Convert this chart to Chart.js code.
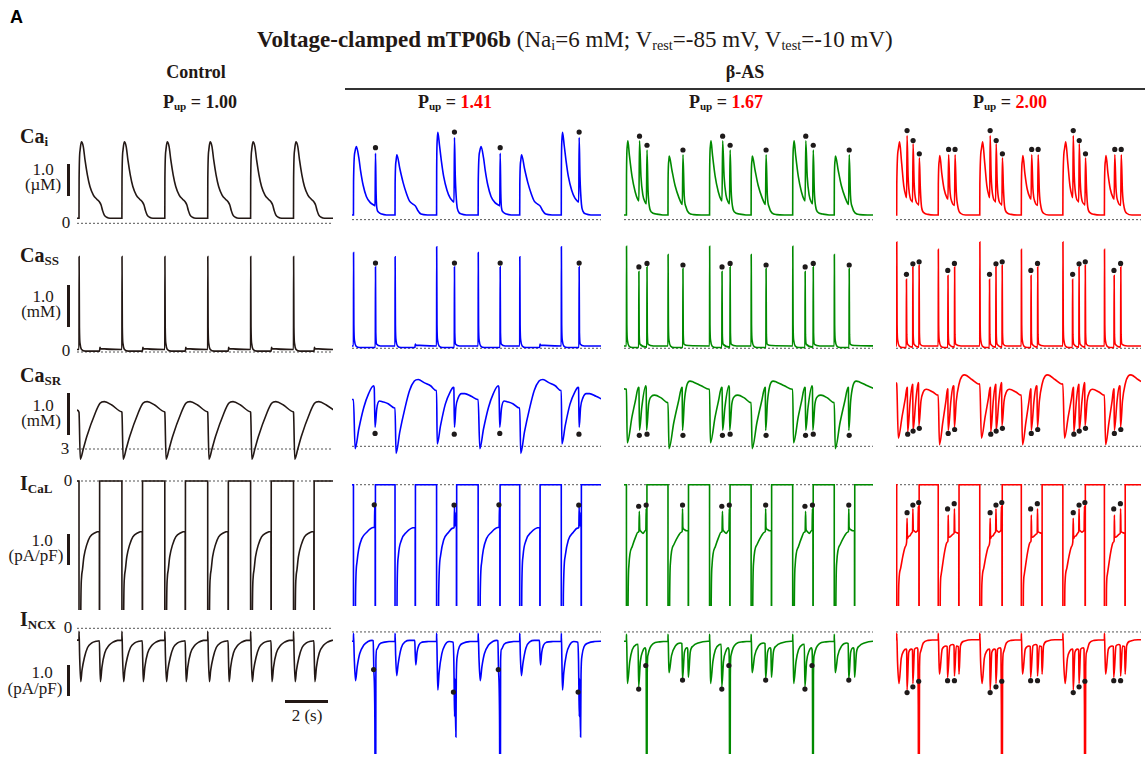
<!DOCTYPE html>
<html>
<head>
<meta charset="utf-8">
<script src="https://cdn.jsdelivr.net/npm/chart.js@4.4.1/dist/chart.umd.min.js"></script>
<style>
  html, body { margin: 0; padding: 0; background: #fff; }
  body { width: 1145px; height: 758px; overflow: hidden; position: relative;
         font-family: "Liberation Serif", "Times New Roman", serif; color: #231815; }
  .t { position: absolute; white-space: nowrap; line-height: 1; }
  .c { text-align: center; width: 200px; }
  .b { font-weight: bold; }
  .sub { font-size: 0.62em; position: relative; top: 0.22em; }
  .bar { position: absolute; background: #231815; }
  canvas.p { position: absolute; }
  .red { color: #ff0000; }
</style>
</head>
<body>

<div class="t b" style="left:10px;top:8px;font-family:'Liberation Sans',Arial,sans-serif;font-size:18px;color:#000">A</div>

<div class="t" style="left:257px;top:28px;font-size:23px;color:#231815">
  <b>Voltage-clamped mTP06b</b> (Na<span class="sub">i</span>=6 mM; V<span class="sub">rest</span>=-85 mV, V<span class="sub">test</span>=-10 mV)
</div>

<div class="t b c" style="left:96px;top:63px;font-size:18px">Control</div>
<div class="t b c" style="left:645px;top:63px;font-size:18px">β-AS</div>
<div class="bar" style="left:345px;top:88px;width:800px;height:2px;background:#333"></div>

<div class="t b c" style="left:100px;top:93px;font-size:18px">P<span class="sub">up</span> = 1.00</div>
<div class="t b c" style="left:355px;top:93px;font-size:18px">P<span class="sub">up</span> = <span class="red">1.41</span></div>
<div class="t b c" style="left:626px;top:93px;font-size:18px">P<span class="sub">up</span> = <span class="red">1.67</span></div>
<div class="t b c" style="left:910px;top:93px;font-size:18px">P<span class="sub">up</span> = <span class="red">2.00</span></div>

<!-- row names -->
<div class="t b" style="left:20px;top:126px;font-size:20px">Ca<span class="sub" style="font-size:13px">i</span></div>
<div class="t b" style="left:20px;top:245px;font-size:20px">Ca<span class="sub" style="font-size:13px">SS</span></div>
<div class="t b" style="left:20px;top:365px;font-size:20px">Ca<span class="sub" style="font-size:13px">SR</span></div>
<div class="t b" style="left:20px;top:473px;font-size:20px">I<span class="sub" style="font-size:13px">CaL</span></div>
<div class="t b" style="left:20px;top:609px;font-size:20px">I<span class="sub" style="font-size:13px">NCX</span></div>

<!-- scale bar captions -->
<div class="t c" style="left:-57px;top:161px;font-size:17px">1.0</div>
<div class="t c" style="left:-57px;top:176px;font-size:17px">(µM)</div>
<div class="t c" style="left:-57px;top:288px;font-size:17px">1.0</div>
<div class="t c" style="left:-59px;top:303px;font-size:17px">(mM)</div>
<div class="t c" style="left:-57px;top:397px;font-size:17px">1.0</div>
<div class="t c" style="left:-59px;top:412px;font-size:17px">(mM)</div>
<div class="t c" style="left:-58px;top:532px;font-size:17px">1.0</div>
<div class="t c" style="left:-64px;top:547px;font-size:17px">(pA/pF)</div>
<div class="t c" style="left:-58px;top:664px;font-size:17px">1.0</div>
<div class="t c" style="left:-65px;top:680px;font-size:17px">(pA/pF)</div>

<!-- baseline values -->
<div class="t c" style="left:-34px;top:214px;font-size:17px">0</div>
<div class="t c" style="left:-34px;top:342px;font-size:17px">0</div>
<div class="t c" style="left:-35px;top:440px;font-size:17px">3</div>
<div class="t c" style="left:-32px;top:472px;font-size:17px">0</div>
<div class="t c" style="left:-32px;top:619px;font-size:17px">0</div>

<!-- vertical scale bars -->
<div class="bar" style="left:67px;top:164px;width:3px;height:32px"></div>
<div class="bar" style="left:67px;top:285px;width:3px;height:42px"></div>
<div class="bar" style="left:67px;top:393px;width:3px;height:42px"></div>
<div class="bar" style="left:67px;top:534px;width:3px;height:31px"></div>
<div class="bar" style="left:67px;top:665px;width:3px;height:31px"></div>

<!-- time scale bar -->
<div class="bar" style="left:285px;top:700px;width:43px;height:3px"></div>
<div class="t c" style="left:207px;top:707px;font-size:17px">2 (s)</div>

<script>
// Pulse onsets (s): one 1-s clamp step to -10 mV every 2 s
const beatOnsets = [0, 2, 4, 6, 8, 10];

// beat pattern per column (which beat shape follows which)
const beatOrder100 = ['A', 'A', 'A', 'A', 'A', 'A'];
const beatOrder141 = ['A', 'B', 'C', 'A', 'B', 'C'];
const beatOrder167 = ['A', 'B', 'A', 'B', 'A', 'B'];
const beatOrder200 = ['A', 'B', 'A', 'B', 'A', 'B'];

// level at the left edge of each panel, per column
const startCai  = [0.16, 0.16, 0.16, 0.16];
const startCass = [0.06, 0.06, 0.06, 0.06];
const startCaSR = [3.92, 4.2, 4.47, 4.63];
const startICaL = [0, 0, 0, 0];
const startINCX = [-0.38, -0.32, -0.32, -0.27];

// ---------- Control, Pup = 1.00  ([time within beat (s), value]) ----------
const caiCtrl  = [[0,0.16],[0.005,1.4],[0.05,2.3],[0.11,2.57],[0.2,2.42],[0.28,2.0],[0.39,1.53],[0.51,1.16],[0.67,0.89],[0.83,0.76],[0.95,0.68],[1.03,0.58],[1.1,0.4],[1.18,0.26],[1.29,0.19],[1.45,0.16],[1.99,0.16]];
const cassCtrl = [[0,0.06],[0.005,2.29],[0.02,0.6],[0.05,0.2],[0.12,0.06],[0.3,0.02],[0.96,0.02],[0.975,0.11],[1.0,0.08],[1.99,0.06]];
const casrCtrl = [[0,3.87],[0.06,2.76],[0.2,3.0],[0.36,3.29],[0.75,3.84],[0.98,4.08],[1.18,4.12],[1.53,4.04],[1.98,3.88]];
const icalCtrl = [[0,0],[0.002,-9],[0.06,-9],[0.085,-4.1],[0.12,-3.1],[0.16,-2.87],[0.23,-2.44],[0.36,-2.06],[0.51,-1.8],[0.75,-1.67],[0.95,-1.63],[0.952,-9],[0.96,-9],[0.962,0],[1.99,0]];
const incxCtrl = [[0,-0.38],[0.003,-0.1],[0.03,-0.9],[0.08,-1.72],[0.14,-1.35],[0.25,-0.95],[0.4,-0.62],[0.6,-0.47],[0.8,-0.42],[0.95,-0.4],[0.97,-1.0],[1.0,-1.72],[1.07,-1.25],[1.2,-0.8],[1.4,-0.55],[1.6,-0.44],[1.8,-0.39],[1.99,-0.38]];

// ---------- β-AS, Pup = 1.41 ----------
const caiA141 = [[0,0.16],[0.005,1.3],[0.07,2.3],[0.14,2.49],[0.26,2.1],[0.34,1.68],[0.47,1.16],[0.62,0.79],[0.81,0.58],[1.0,0.49],[1.04,0.47],[1.06,2.26],[1.09,0.9],[1.12,0.42],[1.2,0.26],[1.36,0.19],[1.59,0.16],[1.99,0.16]];
const caiB141 = [[0,0.16],[0.005,1.2],[0.05,2.0],[0.09,2.21],[0.23,1.74],[0.39,1.26],[0.55,0.89],[0.7,0.63],[0.86,0.53],[0.97,0.47],[1.02,0.42],[1.09,0.32],[1.25,0.19],[1.56,0.16],[1.99,0.16]];
const caiC141 = [[0,0.16],[0.004,1.6],[0.03,2.7],[0.06,2.97],[0.14,2.53],[0.23,2.0],[0.34,1.47],[0.5,1.0],[0.65,0.74],[0.78,0.63],[0.84,0.6],[0.86,2.79],[0.9,1.47],[0.97,0.53],[1.04,0.29],[1.2,0.19],[1.43,0.16],[1.99,0.16]];
const cassA141 = [[0,0.06],[0.005,2.46],[0.02,0.6],[0.05,0.2],[0.12,0.06],[0.3,0.02],[1.05,0.02],[1.06,2.09],[1.075,0.4],[1.12,0.1],[1.3,0.06],[1.99,0.06]];
const cassB141 = [[0,0.06],[0.005,2.35],[0.02,0.6],[0.05,0.2],[0.12,0.06],[0.3,0.02],[0.96,0.02],[0.975,0.11],[1.0,0.08],[1.99,0.06]];
const cassC141 = [[0,0.06],[0.005,2.61],[0.02,0.6],[0.05,0.2],[0.12,0.06],[0.3,0.02],[0.85,0.02],[0.86,2.09],[0.875,0.4],[0.92,0.1],[1.1,0.06],[1.99,0.06]];
const casrA141 = [[0,4.2],[0.08,2.94],[0.26,3.45],[0.5,4.0],[0.73,4.35],[0.97,4.55],[1.0,4.5],[1.04,3.49],[1.12,3.96],[1.25,4.16],[1.4,4.14],[1.67,4.09],[1.98,3.98]];
const casrB141 = [[0,3.98],[0.05,2.82],[0.23,3.37],[0.47,3.96],[0.7,4.43],[0.93,4.67],[1.12,4.71],[1.4,4.63],[1.71,4.55],[1.98,4.43]];
const casrC141 = [[0,4.43],[0.03,3.06],[0.19,3.53],[0.42,4.08],[0.65,4.39],[0.81,4.51],[0.83,4.5],[0.86,3.49],[0.93,4.0],[1.04,4.24],[1.2,4.35],[1.36,4.35],[1.67,4.28],[1.98,4.2]];
const icalA141 = [[0,0],[0.002,-9],[0.06,-9],[0.1,-3.8],[0.17,-2.66],[0.25,-2.23],[0.4,-1.85],[0.64,-1.63],[0.95,-1.47],[1.01,-1.45],[1.025,-0.72],[1.035,-1.4],[1.045,-1.4],[1.047,-9],[1.055,-9],[1.057,0],[1.99,0]];
const icalB141 = [[0,0],[0.002,-9],[0.06,-9],[0.1,-3.6],[0.16,-2.44],[0.31,-1.9],[0.55,-1.63],[0.95,-1.47],[0.97,-1.47],[0.972,-9],[0.98,-9],[0.982,0],[1.99,0]];
const icalC141 = [[0,0],[0.002,-9],[0.06,-9],[0.1,-3.8],[0.19,-2.44],[0.34,-1.9],[0.58,-1.63],[0.78,-1.49],[0.845,-1.47],[0.86,-0.77],[0.875,-1.35],[0.89,-0.95],[0.905,-1.4],[0.94,-1.42],[0.955,-1.42],[0.957,-9],[0.965,-9],[0.967,0],[1.99,0]];
const incxA141 = [[0,-0.32],[0.003,-0.05],[0.04,-0.9],[0.1,-1.67],[0.18,-1.2],[0.3,-0.75],[0.5,-0.45],[0.7,-0.33],[0.9,-0.29],[0.95,-0.3],[0.98,-1.29],[1.03,-3],[1.055,-9],[1.065,-9],[1.08,-1.0],[1.12,-0.6],[1.25,-0.42],[1.5,-0.35],[1.99,-0.32]];
const incxB141 = [[0,-0.32],[0.003,-0.05],[0.03,-0.8],[0.08,-1.5],[0.15,-1.1],[0.3,-0.55],[0.5,-0.33],[0.7,-0.29],[0.95,-0.29],[0.97,-0.7],[1.0,-1.13],[1.06,-0.7],[1.15,-0.45],[1.3,-0.35],[1.6,-0.33],[1.99,-0.32]];
const incxC141 = [[0,-0.32],[0.003,-0.05],[0.03,-1.0],[0.06,-1.99],[0.12,-1.4],[0.25,-0.75],[0.4,-0.45],[0.6,-0.33],[0.8,-0.35],[0.83,-1.0],[0.85,-2.1],[0.87,-2.9],[0.88,-1.6],[0.9,-2.4],[0.93,-3.6],[0.95,-1.5],[1.0,-0.8],[1.1,-0.5],[1.3,-0.38],[1.6,-0.33],[1.99,-0.32]];

// EAD markers, Pup = 1.41
const caiEadA141  = [[1.06,2.45]];
const caiEadC141  = [[0.86,2.98]];
const cassEadA141 = [[1.06,2.19]];
const cassEadC141 = [[0.86,2.19]];
const casrEadA141 = [[1.04,3.33]];
const casrEadC141 = [[0.85,3.31]];
const icalEadA141 = [[1.0,-0.69]];
const icalEadC141 = [[0.84,-0.7]];
const incxEadA141 = [[0.97,-1.29]];
const incxEadC141 = [[0.81,-2.06]];

// ---------- β-AS, Pup = 1.67 ----------
const caiA167 = [[0,0.16],[0.004,1.5],[0.04,2.5],[0.07,2.68],[0.14,2.21],[0.27,1.47],[0.42,0.95],[0.55,0.68],[0.6,0.64],[0.63,2.68],[0.7,1.47],[0.79,0.84],[0.91,0.58],[0.96,0.54],[0.99,2.37],[1.04,1.0],[1.1,0.47],[1.2,0.26],[1.44,0.19],[1.75,0.16],[1.99,0.16]];
const caiB167 = [[0,0.16],[0.004,1.3],[0.04,2.0],[0.06,2.16],[0.19,1.68],[0.34,1.16],[0.53,0.74],[0.65,0.55],[0.69,0.52],[0.72,2.21],[0.78,0.84],[0.87,0.42],[1.0,0.23],[1.23,0.17],[1.6,0.16],[1.99,0.16]];
const cassA167 = [[0,0.06],[0.005,2.62],[0.02,0.6],[0.05,0.2],[0.12,0.06],[0.3,0.02],[0.59,0.02],[0.6,1.97],[0.615,0.35],[0.66,0.1],[0.98,0.03],[0.99,2.09],[1.005,0.4],[1.05,0.1],[1.3,0.06],[1.99,0.06]];
const cassB167 = [[0,0.06],[0.005,2.41],[0.02,0.6],[0.05,0.2],[0.12,0.06],[0.3,0.02],[0.71,0.02],[0.72,2.05],[0.735,0.35],[0.78,0.1],[1.0,0.07],[1.99,0.06]];
const casrA167 = [[0,4.46],[0.04,3.09],[0.27,3.76],[0.43,4.16],[0.58,4.51],[0.6,4.5],[0.63,3.41],[0.74,4.0],[0.93,4.55],[0.95,4.5],[0.97,3.41],[1.07,4.08],[1.21,4.28],[1.36,4.31],[1.67,4.24],[1.98,4.12]];
const casrB167 = [[0,4.12],[0.05,2.94],[0.28,3.61],[0.51,4.16],[0.67,4.51],[0.68,4.5],[0.7,3.41],[0.79,4.16],[0.9,4.55],[1.06,4.67],[1.21,4.65],[1.6,4.55],[1.98,4.46]];
const icalA167 = [[0,0],[0.002,-9],[0.05,-9],[0.08,-4.0],[0.12,-2.76],[0.28,-2.12],[0.44,-1.8],[0.55,-1.63],[0.6,-1.6],[0.62,-0.91],[0.64,-1.5],[0.67,-1.58],[0.8,-1.67],[0.9,-1.58],[0.935,-1.55],[0.95,-0.83],[0.965,-1.4],[0.975,-1.45],[0.977,-9],[0.985,-9],[0.987,0],[1.99,0]];
const icalB167 = [[0,0],[0.002,-9],[0.05,-9],[0.08,-4.0],[0.12,-2.66],[0.28,-2.06],[0.51,-1.74],[0.64,-1.63],[0.685,-1.6],[0.7,-0.83],[0.715,-1.45],[0.76,-1.53],[0.9,-1.58],[0.975,-1.58],[0.977,-9],[0.985,-9],[0.987,0],[1.99,0]];
const incxA167 = [[0,-0.32],[0.003,-0.08],[0.03,-1.0],[0.05,-1.77],[0.16,-1.02],[0.28,-0.61],[0.48,-0.43],[0.56,-0.42],[0.59,-1.88],[0.67,-1.02],[0.79,-0.65],[0.9,-0.54],[0.93,-0.6],[0.95,-1.2],[0.975,-9],[0.985,-9],[1.0,-1.5],[1.03,-0.81],[1.14,-0.54],[1.29,-0.4],[1.6,-0.34],[1.99,-0.32]];
const incxB167 = [[0,-0.32],[0.003,-0.08],[0.03,-0.9],[0.05,-1.4],[0.17,-0.81],[0.36,-0.48],[0.59,-0.38],[0.67,-0.4],[0.7,-1.61],[0.79,-0.7],[0.92,-0.54],[0.95,-0.6],[0.98,-1.56],[1.07,-0.7],[1.21,-0.48],[1.45,-0.38],[1.92,-0.32],[1.99,-0.32]];

// EAD markers, Pup = 1.67
const caiEadA167  = [[0.63,2.84],[0.99,2.53]];
const caiEadB167  = [[0.72,2.37]];
const cassEadA167 = [[0.6,2.09],[0.99,2.18]];
const cassEadB167 = [[0.72,2.14]];
const casrEadA167 = [[0.62,3.28],[0.99,3.31]];
const casrEadB167 = [[0.72,3.28]];
const icalEadA167 = [[0.59,-0.74],[0.95,-0.7]];
const icalEadB167 = [[0.7,-0.7]];
const incxEadA167 = [[0.59,-1.96],[0.93,-1.15]];
const incxEadB167 = [[0.7,-1.65]];

// ---------- β-AS, Pup = 2.00 ----------
const caiA200 = [[0,0.16],[0.005,1.2],[0.08,2.4],[0.14,2.65],[0.23,2.0],[0.34,1.16],[0.45,0.79],[0.48,0.75],[0.5,2.86],[0.55,1.47],[0.65,0.74],[0.73,0.63],[0.765,0.6],[0.79,2.58],[0.84,1.26],[0.93,0.63],[1.03,0.53],[1.065,0.5],[1.09,2.1],[1.14,1.05],[1.2,0.42],[1.32,0.23],[1.51,0.18],[1.8,0.16],[1.99,0.16]];
const caiB200 = [[0,0.16],[0.005,1.2],[0.05,2.0],[0.08,2.18],[0.17,1.58],[0.28,1.05],[0.42,0.74],[0.47,0.7],[0.5,2.21],[0.56,1.05],[0.67,0.58],[0.75,0.5],[0.785,0.48],[0.81,2.21],[0.87,0.95],[0.95,0.42],[1.09,0.21],[1.32,0.16],[1.99,0.16]];
const cassA200 = [[0,0.06],[0.005,2.73],[0.02,0.6],[0.05,0.2],[0.12,0.06],[0.3,0.02],[0.46,0.02],[0.47,1.77],[0.485,0.35],[0.53,0.1],[0.77,0.03],[0.78,2.09],[0.795,0.35],[0.84,0.1],[1.07,0.03],[1.08,2.13],[1.095,0.4],[1.14,0.1],[1.3,0.06],[1.99,0.06]];
const cassB200 = [[0,0.06],[0.005,2.54],[0.02,0.6],[0.05,0.2],[0.12,0.06],[0.3,0.02],[0.46,0.02],[0.47,1.87],[0.485,0.35],[0.53,0.1],[0.78,0.03],[0.79,2.09],[0.805,0.35],[0.85,0.1],[1.1,0.06],[1.99,0.06]];
const casrA200 = [[0,4.6],[0.08,3.21],[0.26,3.76],[0.42,4.24],[0.5,4.51],[0.51,4.5],[0.53,3.37],[0.65,4.16],[0.76,4.59],[0.77,4.58],[0.79,3.41],[0.92,4.16],[1.04,4.63],[1.05,4.6],[1.07,3.53],[1.17,4.16],[1.28,4.39],[1.43,4.46],[1.74,4.39],[1.98,4.31]];
const casrB200 = [[0,4.31],[0.06,3.04],[0.22,3.61],[0.37,4.16],[0.45,4.47],[0.46,4.46],[0.48,3.41],[0.61,4.16],[0.72,4.55],[0.75,4.54],[0.78,3.49],[0.87,4.16],[1.0,4.59],[1.15,4.8],[1.28,4.83],[1.62,4.71],[1.98,4.59]];
const icalA200 = [[0,0],[0.002,-9],[0.06,-9],[0.09,-4.0],[0.11,-3.3],[0.19,-2.87],[0.3,-2.44],[0.42,-2.12],[0.48,-1.96],[0.5,-1.15],[0.52,-1.85],[0.55,-1.8],[0.65,-1.74],[0.75,-1.63],[0.765,-1.6],[0.78,-0.83],[0.8,-1.55],[0.83,-1.58],[0.92,-1.63],[1.01,-1.58],[1.025,-1.55],[1.04,-0.74],[1.055,-1.45],[1.07,-1.5],[1.072,-9],[1.08,-9],[1.082,0],[1.99,0]];
const icalB200 = [[0,0],[0.002,-9],[0.06,-9],[0.1,-3.6],[0.14,-3.09],[0.3,-2.33],[0.4,-2.01],[0.45,-1.96],[0.47,-1.9],[0.48,-1.04],[0.5,-1.8],[0.53,-1.8],[0.65,-1.74],[0.73,-1.69],[0.765,-1.65],[0.78,-0.83],[0.8,-1.6],[0.84,-1.63],[0.97,-1.67],[0.99,-1.67],[0.992,-9],[1.0,-9],[1.002,0],[1.99,0]];
const incxA200 = [[0,-0.27],[0.003,-0.05],[0.04,-1.0],[0.11,-1.77],[0.22,-0.91],[0.34,-0.65],[0.45,-0.59],[0.48,-0.62],[0.5,-1.99],[0.58,-0.7],[0.7,-0.59],[0.76,-0.62],[0.78,-1.77],[0.86,-0.59],[0.98,-0.54],[1.02,-0.6],[1.04,-2.5],[1.06,-9],[1.075,-9],[1.1,-1.2],[1.14,-0.7],[1.28,-0.38],[1.51,-0.29],[1.99,-0.27]];
const incxB200 = [[0,-0.27],[0.003,-0.05],[0.03,-0.8],[0.06,-1.45],[0.19,-0.59],[0.37,-0.48],[0.43,-0.5],[0.45,-1.56],[0.56,-0.48],[0.69,-0.43],[0.76,-0.46],[0.78,-1.51],[0.87,-0.48],[0.97,-0.5],[1.0,-1.45],[1.07,-0.48],[1.23,-0.32],[1.62,-0.27],[1.99,-0.27]];

// EAD markers, Pup = 2.00
const caiEadA200  = [[0.5,3.03],[0.79,2.69],[1.09,2.24]];
const caiEadB200  = [[0.5,2.39],[0.81,2.39]];
const cassEadA200 = [[0.47,1.9],[0.78,2.17],[1.08,2.22]];
const cassEadB200 = [[0.46,2.0],[0.78,2.18]];
const casrEadA200 = [[0.53,3.31],[0.79,3.39],[1.09,3.46]];
const casrEadB200 = [[0.48,3.33],[0.79,3.43]];
const icalEadA200 = [[0.5,-0.96],[0.78,-0.7],[1.06,-0.61]];
const icalEadB200 = [[0.45,-0.83],[0.77,-0.65]];
const incxEadA200 = [[0.5,-2.08],[0.78,-1.88],[1.06,-1.69]];
const incxEadB200 = [[0.45,-1.67],[0.78,-1.67]];

// ---------- page layout ----------
const PX_PER_S = 21.45;

// rows: Cai (µM), Cass (mM), CaSR (mM), ICaL (pA/pF), INCX (pA/pF)
const rowLayout = [
  { top: 118, bottom: 228, zeroY: 223.3, pxPerUnit: 31.7, ref: 0 },
  { top: 236, bottom: 356, zeroY: 352,   pxPerUnit: 41.7, ref: 0 },
  { top: 362, bottom: 466, zeroY: 449,   pxPerUnit: 42.3, ref: 3 },
  { top: 476, bottom: 610, zeroY: 481,   pxPerUnit: 31,   ref: 0 },
  { top: 622, bottom: 758, zeroY: 628.3, pxPerUnit: 31,   ref: 0 }
];
const starts = [startCai, startCass, startCaSR, startICaL, startINCX];

const columns = [
  { colour: '#231815', x0: 79,    left: 77,  right: 333,  order: beatOrder100,
    shapes: [{A: caiCtrl}, {A: cassCtrl}, {A: casrCtrl}, {A: icalCtrl}, {A: incxCtrl}],
    marks:  [{}, {}, {}, {}, {}] },
  { colour: '#0000ff', x0: 349.5, left: 348, right: 605,  order: beatOrder141,
    shapes: [{A: caiA141, B: caiB141, C: caiC141}, {A: cassA141, B: cassB141, C: cassC141},
             {A: casrA141, B: casrB141, C: casrC141}, {A: icalA141, B: icalB141, C: icalC141},
             {A: incxA141, B: incxB141, C: incxC141}],
    marks:  [{A: caiEadA141, C: caiEadC141}, {A: cassEadA141, C: cassEadC141},
             {A: casrEadA141, C: casrEadC141}, {A: icalEadA141, C: icalEadC141},
             {A: incxEadA141, C: incxEadC141}] },
  { colour: '#008a00', x0: 622.5, left: 620, right: 877,  order: beatOrder167,
    shapes: [{A: caiA167, B: caiB167}, {A: cassA167, B: cassB167}, {A: casrA167, B: casrB167},
             {A: icalA167, B: icalB167}, {A: incxA167, B: incxB167}],
    marks:  [{A: caiEadA167, B: caiEadB167}, {A: cassEadA167, B: cassEadB167},
             {A: casrEadA167, B: casrEadB167}, {A: icalEadA167, B: icalEadB167},
             {A: incxEadA167, B: incxEadB167}] },
  { colour: '#ff0000', x0: 892.7, left: 892, right: 1145, order: beatOrder200,
    shapes: [{A: caiA200, B: caiB200}, {A: cassA200, B: cassB200}, {A: casrA200, B: casrB200},
             {A: icalA200, B: icalB200}, {A: incxA200, B: incxB200}],
    marks:  [{A: caiEadA200, B: caiEadB200}, {A: cassEadA200, B: cassEadB200},
             {A: casrEadA200, B: casrEadB200}, {A: icalEadA200, B: icalEadB200},
             {A: incxEadA200, B: incxEadB200}] }
];

// lay the beat shapes end to end along the pulse train
function beatTrain(shapes, order, firstValue, tStart) {
  const pts = firstValue === null ? [] : [{ x: tStart, y: firstValue }];
  order.forEach((key, i) => {
    (shapes[key] || []).forEach(p => pts.push({ x: beatOnsets[i] + p[0], y: p[1] }));
  });
  return pts;
}

columns.forEach((col, ci) => {
  rowLayout.forEach((row, ri) => {
    const left = Math.round(col.left), width = Math.round(col.right - col.left);
    const top = Math.round(row.top), height = Math.round(row.bottom - row.top);
    const cv = document.createElement('canvas');
    cv.className = 'p';
    cv.width = width; cv.height = height;
    cv.style.left = left + 'px'; cv.style.top = top + 'px';
    cv.style.width = width + 'px'; cv.style.height = height + 'px';
    document.body.appendChild(cv);

    const tMin = (left - col.x0) / PX_PER_S;
    const tMax = (left + width - col.x0) / PX_PER_S;
    const yMax = row.ref + (row.zeroY - top) / row.pxPerUnit;
    const yMin = row.ref - (top + height - row.zeroY) / row.pxPerUnit;

    const trace = beatTrain(col.shapes[ri], col.order, starts[ri][ci], tMin);
    const eads = beatTrain(col.marks[ri], col.order, null, tMin);

    new Chart(cv, {
      type: 'line',
      data: {
        datasets: [
          { data: eads, showLine: false, pointRadius: 2.6, pointBackgroundColor: '#1e1a1a',
            pointBorderWidth: 0, clip: false },
          { data: trace, borderColor: col.colour, borderWidth: 1.6, pointRadius: 0,
            cubicInterpolationMode: 'monotone', fill: false },
          { data: [{ x: tMin, y: row.ref }, { x: tMax, y: row.ref }], borderColor: '#555',
            borderWidth: 1, borderDash: [2, 2], pointRadius: 0, fill: false }
        ]
      },
      options: {
        responsive: false, animation: false, devicePixelRatio: 1, events: [],
        layout: { padding: 0 },
        plugins: { legend: { display: false }, tooltip: { enabled: false } },
        scales: {
          x: { type: 'linear', display: false, min: tMin, max: tMax },
          y: { type: 'linear', display: false, min: yMin, max: yMax }
        }
      }
    });
  });
});
</script>
</body>
</html>
